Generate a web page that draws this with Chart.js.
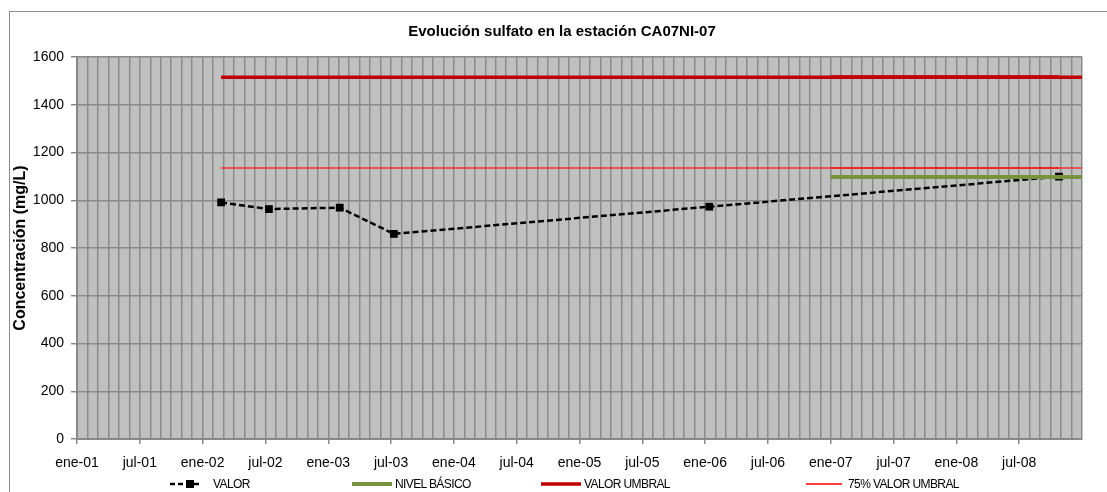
<!DOCTYPE html>
<html>
<head>
<meta charset="utf-8">
<script src="https://cdn.jsdelivr.net/npm/chart.js@4.4.0/dist/chart.umd.min.js"></script>
<style>
    body { margin: 0; background: #fff; font-family: "Liberation Sans", Arial, sans-serif; }
    #caja { position: relative; width: 1107px; height: 492px; overflow: hidden; }
    #marco { position: absolute; left: 9px; top: 11px; width: 1200px; height: 600px; border: 1px solid #8c8c8c; }
    #grafico { position: absolute; left: 0; top: 0; }
    #titulo { position: absolute; left: 362px; width: 400px; top: 22px; text-align: center; font-size: 15px; font-weight: bold; color: #000; }
    .leyenda { position: absolute; top: 476px; height: 16px; font-size: 12px; letter-spacing: -0.6px; color: #000; }
    .leyenda svg { position: absolute; top: 3px; }
    .leyenda span { position: absolute; top: 1px; white-space: nowrap; }
</style>
</head>
<body>
<div id="caja">
    <div id="marco"></div>
    <canvas id="grafico" width="1107" height="492"></canvas>
    <div id="titulo">Evolución sulfato en la estación CA07NI-07</div>
    <div class="leyenda" style="left:170px">
        <svg width="34" height="10"><line x1="0" y1="5" x2="32" y2="5" stroke="#000" stroke-width="2.5" stroke-dasharray="5,3"/><rect x="16" y="1" width="8" height="8" fill="#000"/></svg>
        <span style="left:43px">VALOR</span>
    </div>
    <div class="leyenda" style="left:352px">
        <svg width="40" height="10"><line x1="0" y1="5" x2="40" y2="5" stroke="#77933C" stroke-width="4"/></svg>
        <span style="left:43px">NIVEL BÁSICO</span>
    </div>
    <div class="leyenda" style="left:541px">
        <svg width="40" height="10"><line x1="0" y1="5" x2="40" y2="5" stroke="#C00000" stroke-width="3.5"/></svg>
        <span style="left:43px">VALOR UMBRAL</span>
    </div>
    <div class="leyenda" style="left:806px">
        <svg width="36" height="10"><line x1="0" y1="5" x2="36" y2="5" stroke="#FF0000" stroke-width="1.5"/></svg>
        <span style="left:42px">75% VALOR UMBRAL</span>
    </div>
</div>
<script>
// datos
const fechasMuestreo = ['2002-02-24', '2002-07-11', '2003-02-04', '2003-07-09', '2006-01-13', '2008-10-25'];
const valoresSulfato = [991, 963, 969, 859, 973, 1099];
const etiquetasEje = ['ene-01', 'jul-01', 'ene-02', 'jul-02', 'ene-03', 'jul-03', 'ene-04', 'jul-04',
    'ene-05', 'jul-05', 'ene-06', 'jul-06', 'ene-07', 'jul-07', 'ene-08', 'jul-08'];
const valorUmbral = [1515, 1517];
const umbral75 = [1135, 1135];
const nivelBasico = 1097;
const inicioNivelBasico = '2007-01-01';
const finEje = '2009-01-01';

// meses desde ene-01
function aMes(fecha) {
    var p = fecha.split('-').map(Number);
    return (p[0] - 2001) * 12 + (p[1] - 1) + (p[2] - 1) / 30;
}

var primera = aMes(fechasMuestreo[0]);
var ultima = aMes(fechasMuestreo[fechasMuestreo.length - 1]);
var inicioNB = aMes(inicioNivelBasico);
var fin = aMes(finEje);

var puntosValor = [];
for (var i = 0; i < fechasMuestreo.length; i++) {
    puntosValor.push({ x: aMes(fechasMuestreo[i]), y: valoresSulfato[i] });
}

const fondoGris = {
    id: 'fondoGris',
    beforeDraw(chart) {
        const a = chart.chartArea;
        chart.ctx.save();
        chart.ctx.fillStyle = '#C0C0C0';
        chart.ctx.fillRect(a.left, a.top, a.right - a.left, a.bottom - a.top);
        chart.ctx.restore();
    }
};

Chart.defaults.font.family = '"Liberation Sans", Arial, sans-serif';
Chart.defaults.color = '#000';

const ctx = document.getElementById('grafico');
var grafico = new Chart(ctx, {
    type: 'line',
    data: {
        datasets: [
            {
                label: 'NIVEL BÁSICO',
                data: [{ x: inicioNB, y: nivelBasico }, { x: fin, y: nivelBasico }],
                borderColor: '#77933C',
                borderWidth: 4,
                pointRadius: 0,
                order: 1
            },
            {
                label: 'VALOR UMBRAL',
                data: [{ x: primera, y: valorUmbral[0] }, { x: fin, y: valorUmbral[0] }],
                borderColor: '#C00000',
                borderWidth: 3.5,
                pointRadius: 0,
                order: 2
            },
            {
                label: 'VALOR UMBRAL 2',
                data: [{ x: inicioNB, y: valorUmbral[1] }, { x: ultima, y: valorUmbral[1] }],
                borderColor: '#C00000',
                borderWidth: 3,
                pointRadius: 0,
                order: 2
            },
            {
                label: '75% VALOR UMBRAL',
                data: [{ x: primera, y: umbral75[0] }, { x: fin, y: umbral75[0] }],
                borderColor: '#F03030',
                borderWidth: 1.5,
                pointRadius: 0,
                order: 2
            },
            {
                label: '75% VALOR UMBRAL 2',
                data: [{ x: inicioNB, y: umbral75[1] }, { x: ultima, y: umbral75[1] }],
                borderColor: '#FF0000',
                borderWidth: 2,
                pointRadius: 0,
                order: 2
            },
            {
                label: 'VALOR',
                data: puntosValor,
                borderColor: '#000',
                borderWidth: 2.5,
                borderDash: [6, 3],
                pointStyle: 'rect',
                pointRadius: 5.5,
                pointBorderWidth: 0,
                pointBackgroundColor: '#000',
                order: 3
            }
        ]
    },
    options: {
        responsive: false,
        animation: false,
        layout: {
            padding: { left: 0, right: 25, top: 57, bottom: 0 }
        },
        plugins: {
            legend: { display: false },
            tooltip: { enabled: false },
            title: { display: false }
        },
        scales: {
            x: {
                type: 'linear',
                min: 0,
                max: fin,
                afterFit: function (scale) { scale.height = 53; },
                ticks: {
                    stepSize: 1,
                    autoSkip: false,
                    maxRotation: 0,
                    padding: 11,
                    font: { size: 14 },
                    callback: function (valor) {
                        if (valor % 6 === 0 && etiquetasEje[valor / 6]) {
                            return etiquetasEje[valor / 6];
                        }
                        return '';
                    }
                },
                grid: {
                    color: '#8a8a8a',
                    lineWidth: 1.5,
                    tickLength: 5,
                    tickColor: function (c) {
                        return (c.tick && c.tick.value % 6 === 0 && c.tick.value < fin) ? '#8a8a8a' : 'rgba(0,0,0,0)';
                    }
                },
                border: { color: '#888', width: 2 }
            },
            y: {
                min: 0,
                max: 1600,
                afterFit: function (scale) { scale.width = 77; },
                ticks: {
                    stepSize: 200,
                    padding: 7,
                    font: { size: 14 },
                    callback: function (valor) { return String(valor); }
                },
                grid: {
                    color: '#8a8a8a',
                    lineWidth: 1.5,
                    tickLength: 6
                },
                border: { color: '#888', width: 2 },
                title: {
                    display: true,
                    text: 'Concentración (mg/L)',
                    font: { size: 16, weight: 'bold' },
                    color: '#000',
                    padding: { top: 11, bottom: 0 }
                }
            }
        }
    },
    plugins: [fondoGris]
});
</script>
</body>
</html>
